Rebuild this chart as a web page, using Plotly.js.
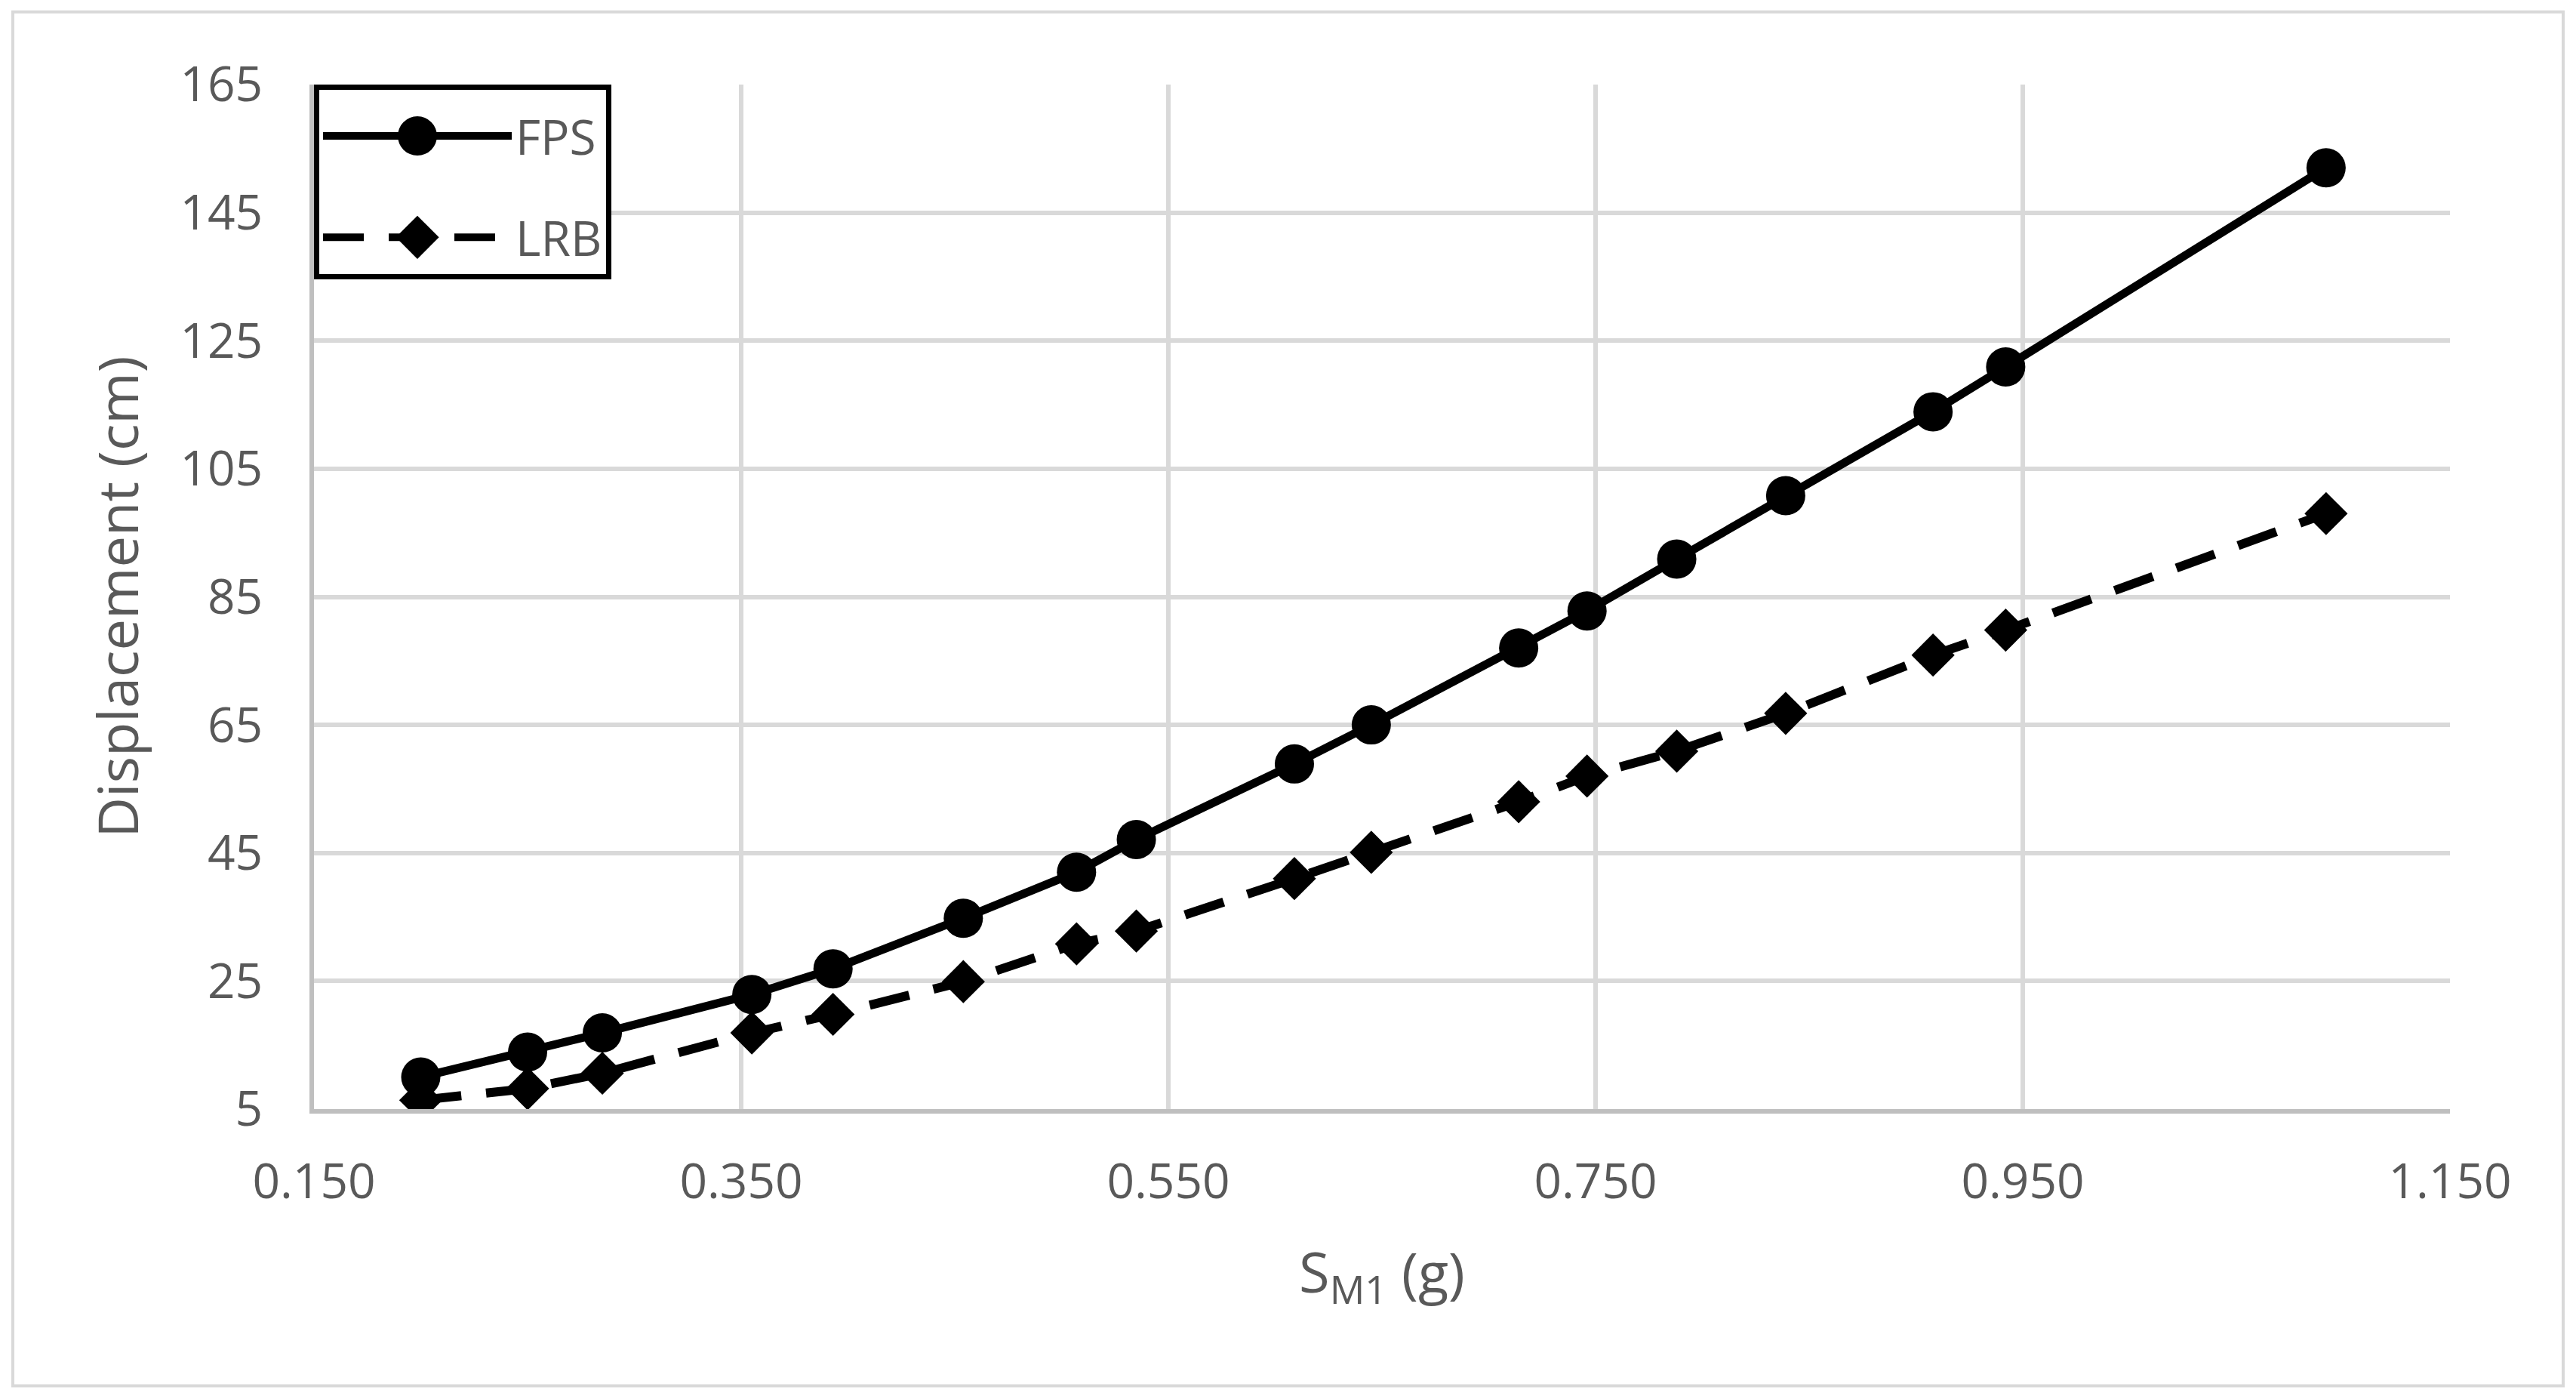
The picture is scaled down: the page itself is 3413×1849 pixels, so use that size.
<!DOCTYPE html>
<html>
<head>
<meta charset="utf-8">
<script src="https://cdn.plot.ly/plotly-3.0.1.min.js"></script>
<style>
  html, body { margin: 0; padding: 0; background: #fff; }
  #chart { width: 3413px; height: 1849px; }
</style>
</head>
<body>
<div id="chart"></div>
<script>
// Spectral acceleration S_M1 (g)
const sm1 = [0.200, 0.250, 0.285, 0.355, 0.393, 0.454, 0.507, 0.535, 0.609,
             0.645, 0.714, 0.746, 0.788, 0.839, 0.908, 0.942, 1.092];

// Displacement (cm) for each isolator type
const fpsDisp = [10.0, 13.9, 16.9, 22.9, 26.9, 34.8, 42.0, 47.1, 58.9,
                 65.0, 77.0, 82.8, 90.9, 100.8, 113.9, 120.9, 152.0];
const lrbDisp = [6.4, 8.2, 10.6, 16.9, 19.8, 24.9, 30.8, 32.8, 41.0,
                 45.1, 53.0, 57.0, 60.9, 66.8, 75.9, 79.8, 98.0];

const textColor = '#595959';
const fontFamily = '"Open Sans", "Liberation Sans", sans-serif';

const traces = [
    {
        x: sm1,
        y: fpsDisp,
        name: 'FPS',
        legendgroup: 'fps',
        type: 'scatter',
        mode: 'lines+markers',
        line: { color: '#000000', width: 11 },
        marker: { symbol: 'circle', size: 52, color: '#000000' }
    },
    {
        x: sm1,
        y: lrbDisp,
        name: 'LRB',
        legendgroup: 'lrb',
        type: 'scatter',
        mode: 'lines+markers',
        line: { color: '#000000', width: 12, dash: '54px,33px' },
        marker: { symbol: 'diamond', size: 44, color: '#000000' }
    }
];

const layout = {
    width: 3413,
    height: 1849,
    margin: { t: 112, r: 167, b: 380, l: 416 },
    plot_bgcolor: '#FFFFFF',
    paper_bgcolor: '#FFFFFF',
    font: { family: fontFamily, color: textColor, size: 64 },
    showlegend: true,
    legend: {
        x: 0,
        y: 1,
        xanchor: 'left',
        yanchor: 'top',
        bgcolor: '#FFFFFF',
        bordercolor: '#000000',
        borderwidth: 7,
        itemwidth: 250,
        tracegroupgap: 48,
        traceorder: 'grouped',
        title: { text: '\u00a0', font: { size: 10 } },
        font: { family: fontFamily, color: textColor, size: 64 }
    },
    xaxis: {
        range: [0.15, 1.15],
        tick0: 0.15,
        dtick: 0.2,
        tickformat: '.3f',
        showgrid: true,
        gridcolor: '#d9d9d9',
        gridwidth: 6,
        showline: true,
        linecolor: '#bfbfbf',
        linewidth: 6,
        zeroline: false,
        ticks: '',
        ticklabelstandoff: 35,
        tickfont: { family: fontFamily, color: textColor, size: 64 },
        title: {
            text: 'S<sub>M1</sub> (g)',
            standoff: 57,
            font: { family: fontFamily, color: textColor, size: 74 }
        }
    },
    yaxis: {
        range: [5, 165],
        tick0: 5,
        dtick: 20,
        showgrid: true,
        gridcolor: '#d9d9d9',
        gridwidth: 6,
        showline: true,
        linecolor: '#bfbfbf',
        linewidth: 6,
        zeroline: false,
        ticks: '',
        ticklabelstandoff: 49,
        tickfont: { family: fontFamily, color: textColor, size: 64 },
        title: {
            text: 'Displacement (cm)',
            standoff: 33,
            font: { family: fontFamily, color: textColor, size: 74 }
        }
    },
    shapes: [
        // light outer frame around the whole chart area
        {
            type: 'rect',
            xref: 'paper',
            yref: 'paper',
            x0: -0.141,
            x1: 1.053,
            y0: -0.270,
            y1: 1.071,
            line: { color: '#d9d9d9', width: 4 },
            fillcolor: 'rgba(0,0,0,0)',
            layer: 'below'
        }
    ]
};

const config = {
    responsive: false,
    displayModeBar: false,
    staticPlot: true
};

Plotly.newPlot('chart', traces, layout, config).then(gd => {
    // legend symbols are capped at 16px by plotly; scale them up to the trace marker size
    gd.querySelectorAll('.legend .traces').forEach((g, i) => {
        const scale = traces[i].marker.size / 16;
        g.querySelectorAll('.scatterpts').forEach(p => {
            const t = p.getAttribute('transform') || '';
            p.setAttribute('transform', `${t} scale(${scale})`);
        });
    });
});
</script>
</body>
</html>
